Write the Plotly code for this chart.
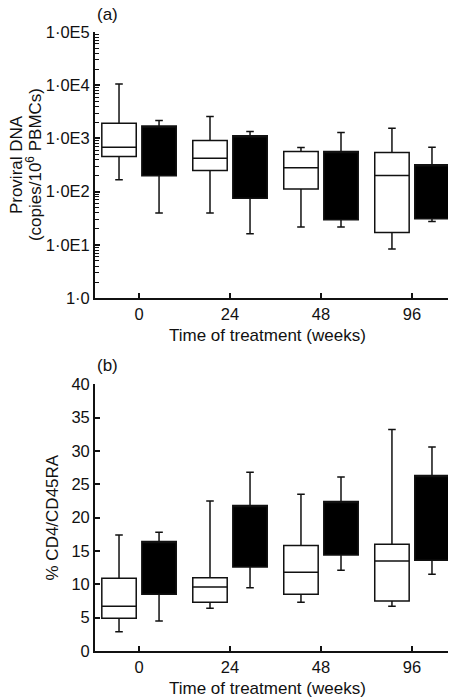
import plotly.graph_objects as go

# ---------------- data ----------------
weeks = ["0", "24", "48", "96"]
positions = [0, 1, 2, 3]

# (a) Proviral DNA (copies/10^6 PBMCs), log scale
a_white_low = [167, 40, 21.7, 8.4]
a_white_q1 = [457, 250, 112, 17.2]
a_white_med = [687, 425, 281, 201]
a_white_q3 = [1940, 915, 568, 543]
a_white_high = [10500, 2580, 675, 1555]

a_black_low = [39.7, 16.2, 21.7, 27.6]
a_black_q1 = [199, 75.6, 29.7, 31]
a_black_med = [1720, 1120, 568, 320]   # median not visible in the filled box
a_black_q3 = [1720, 1120, 568, 320]
a_black_high = [2170, 1345, 1290, 687]

# (b) % CD4/CD45RA
b_white_low = [2.9, 6.4, 7.3, 6.7]
b_white_q1 = [4.9, 7.3, 8.5, 7.5]
b_white_med = [6.7, 9.6, 11.8, 13.5]
b_white_q3 = [10.9, 11.0, 15.8, 16.0]
b_white_high = [17.4, 22.5, 23.5, 33.2]

b_black_low = [4.5, 9.5, 12.1, 11.5]
b_black_q1 = [8.5, 12.6, 14.4, 13.6]
b_black_med = [16.4, 21.8, 22.4, 26.3]  # median not visible in the filled box
b_black_q3 = [16.4, 21.8, 22.4, 26.3]
b_black_high = [17.8, 26.8, 26.1, 30.6]

log_tickvals = [1, 10, 100, 1000, 10000, 100000]
log_ticktext = ["1·0", "1·0E1", "1·0E2", "1·0E3", "1·0E4", "1·0E5"]
minor_vals = [m * d for d in [1, 10, 100, 1000, 10000] for m in range(2, 10)]

FONT = "Liberation Sans, Arial, Helvetica, sans-serif"
INK = "#111111"

fig = go.Figure()


def add_box(low, q1, med, q3, high, fill, group, panel, xa, ya):
    fig.add_trace(go.Box(
        x=positions, lowerfence=low, q1=q1, median=med, q3=q3, upperfence=high,
        name=group, fillcolor=fill, line=dict(color=INK, width=1.5),
        whiskerwidth=0.22, boxpoints=False, showlegend=False,
        offsetgroup=group, alignmentgroup=panel,
        xaxis=xa, yaxis=ya, hoverinfo="skip"))


add_box(a_white_low, a_white_q1, a_white_med, a_white_q3, a_white_high, "white", "w", "a", "x", "y")
add_box(a_black_low, a_black_q1, a_black_med, a_black_q3, a_black_high, "black", "k", "a", "x", "y")
add_box(b_white_low, b_white_q1, b_white_med, b_white_q3, b_white_high, "white", "w", "b", "x2", "y2")
add_box(b_black_low, b_black_q1, b_black_med, b_black_q3, b_black_high, "black", "k", "b", "x2", "y2")

xcommon = dict(range=[-0.484, 3.473], tickvals=positions, ticktext=weeks,
               ticks="inside", ticklen=5, tickwidth=1.5, tickcolor=INK,
               showline=True, linecolor=INK, linewidth=1.8, showgrid=False,
               zeroline=False, automargin=False,
               tickfont=dict(size=16.5, color=INK, family=FONT),
               domain=[0, 1])
ycommon = dict(ticks="inside", ticklen=5, tickwidth=1.5, tickcolor=INK,
               showline=True, linecolor=INK, linewidth=1.8, showgrid=False,
               zeroline=False, automargin=False,
               tickfont=dict(size=16.5, color=INK, family=FONT))

# the page body adds an 8 px offset; the figure is sized to fill the rest of the window
fig.update_layout(
    width=448, height=692,
    margin=dict(l=87, r=1, t=24, b=49, autoexpand=False),
    paper_bgcolor="white", plot_bgcolor="white",
    boxmode="group", boxgap=0.12, boxgroupgap=0.14,
    font=dict(family=FONT, size=17, color=INK),
    xaxis=dict(anchor="y", **xcommon),
    xaxis2=dict(anchor="y2", **xcommon),
    yaxis=dict(anchor="x", type="log", range=[0, 5], domain=[0.570, 1],
               tickvals=log_tickvals, ticktext=log_ticktext,
               minor=dict(tickvals=minor_vals, ticks="inside", ticklen=4,
                          tickwidth=1, tickcolor=INK),
               **ycommon),
    yaxis2=dict(anchor="x2", range=[0, 40], dtick=5, tick0=0, domain=[0, 0.431],
                **ycommon),
)

ann = dict(xref="paper", yref="paper", showarrow=False,
           font=dict(size=17, color=INK, family=FONT))
fig.add_annotation(text="(a)", x=0, y=1.029, xanchor="left", yanchor="middle", **ann)
fig.add_annotation(text="(b)", x=0, y=0.462, xanchor="left", yanchor="middle", **ann)
fig.add_annotation(text="Time of treatment (weeks)", x=0.48, y=0.509,
                   xanchor="center", yanchor="middle", **ann)
fig.add_annotation(text="Time of treatment (weeks)", x=0.48, y=-0.0598,
                   xanchor="center", yanchor="middle", **ann)
fig.add_annotation(text="Proviral DNA", x=(16 - 95) / 360, y=0.785, textangle=-90,
                   xanchor="center", yanchor="middle", **ann)
fig.add_annotation(text="(copies/10<sup>6</sup> PBMCs)", x=(34 - 95) / 360, y=0.785,
                   textangle=-90, xanchor="center", yanchor="middle", **ann)
fig.add_annotation(text="% CD4/CD45RA", x=(52 - 95) / 360, y=0.2157, textangle=-90,
                   xanchor="center", yanchor="middle", **ann)

fig.write_html("out.html")
